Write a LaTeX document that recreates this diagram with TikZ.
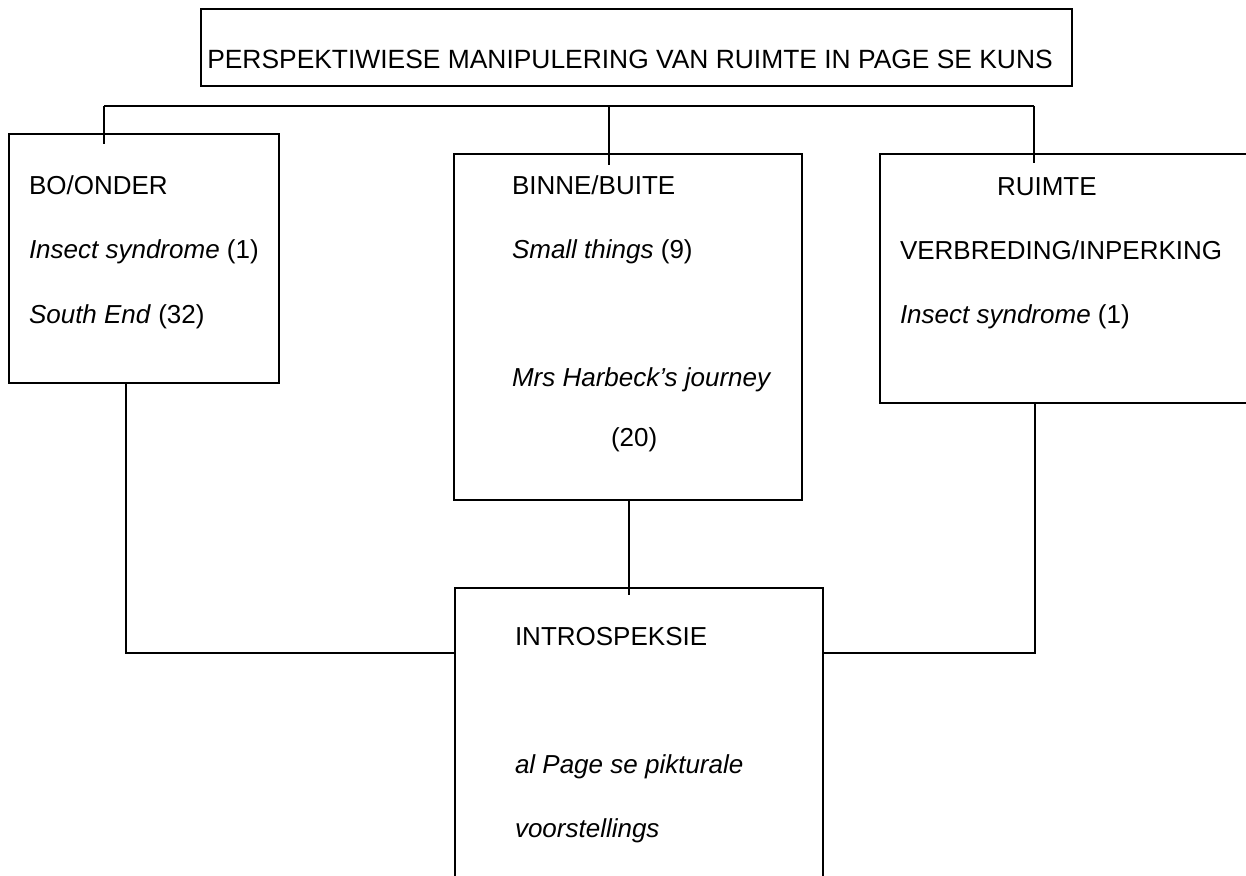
\documentclass[tikz,border=0pt]{standalone}
\usepackage{fontspec}
\setmainfont{Liberation Sans}
\usetikzlibrary{calc}
\begin{document}
\begin{tikzpicture}[x=0.5pt,y=-0.5pt,
  line width=1pt,
  box/.style={draw,rectangle,inner sep=0pt,outer sep=0pt,line width=1pt},
  txt/.style={anchor=base west,inner sep=0pt,outer sep=0pt,font=\fontsize{13}{15.6}\selectfont},
  ttl/.style={anchor=base,inner sep=0pt,outer sep=0pt,font=\fontsize{13.2}{15.8}\selectfont}]
\useasboundingbox (0,0) rectangle (1246,876);
\clip (0,0) rectangle (1246,876);

% frames
\node[box,minimum width=435.5pt,minimum height=38.5pt] (top) at (636.5,47.5) {};
\node[box,minimum width=135pt,minimum height=124.5pt] (lft) at (144,258.5) {};
\node[box,minimum width=174pt,minimum height=173pt] (mid) at (628,327) {};
\node[box,minimum width=195pt,minimum height=124.5pt] (rgt) at (1075,278.5) {};
\node[box,minimum width=184pt,minimum height=156pt] (bot) at (639,744) {};

% texts
\node[ttl] (title) at (630,69) {PERSPEKTIWIESE MANIPULERING VAN RUIMTE IN PAGE SE KUNS};

\node[txt] (l1) at (29,195) {BO/ONDER};
\node[txt] (l2) at (29,259) {\textit{Insect syndrome} (1)};
\node[txt] (l3) at (29,324) {\textit{South End} (32)};

\node[txt] (m1) at (512,195) {BINNE/BUITE};
\node[txt] (m2) at (512,259) {\textit{Small things} (9)};
\node[txt] (m3) at (512,387) {\textit{Mrs Harbeck’s journey}};
\node[txt] (m4) at (611,447) {(20)};

\node[txt] (r1) at (997,196) {RUIMTE};
\node[txt] (r2) at (900,260) {VERBREDING/INPERKING};
\node[txt] (r3) at (900,324) {\textit{Insect syndrome} (1)};

\node[txt] (b1) at (515,645) {INTROSPEKSIE};
\node[txt] (b2) at (515,773) {\textit{al Page se pikturale}};
\node[txt] (b3) at (515,837) {\textit{voorstellings}};

% upper bus and drops
\coordinate (busL) at (104,106);
\coordinate (busM) at (609,106);
\coordinate (busR) at (1034,106);
\draw (busL) -- (busR);
\draw (busL) -- ($(busL |- lft.north)+(0,10)$);
\draw (busM) -- ($(busM |- mid.north)+(0,11)$);
\draw (busR) -- ($(busR |- rgt.north)+(0,9)$);

% lower connectors
\coordinate (jL) at (126,653);
\coordinate (jM) at (629,500);
\coordinate (jR) at (1035,653);
\draw (jL |- lft.south) -- (jL) -- (jL -| bot.west);
\draw (jR |- rgt.south) -- (jR) -- (jR -| bot.east);
\draw (jM |- mid.south) -- ($(jM |- bot.north)+(0,7)$);
\end{tikzpicture}
\end{document}
